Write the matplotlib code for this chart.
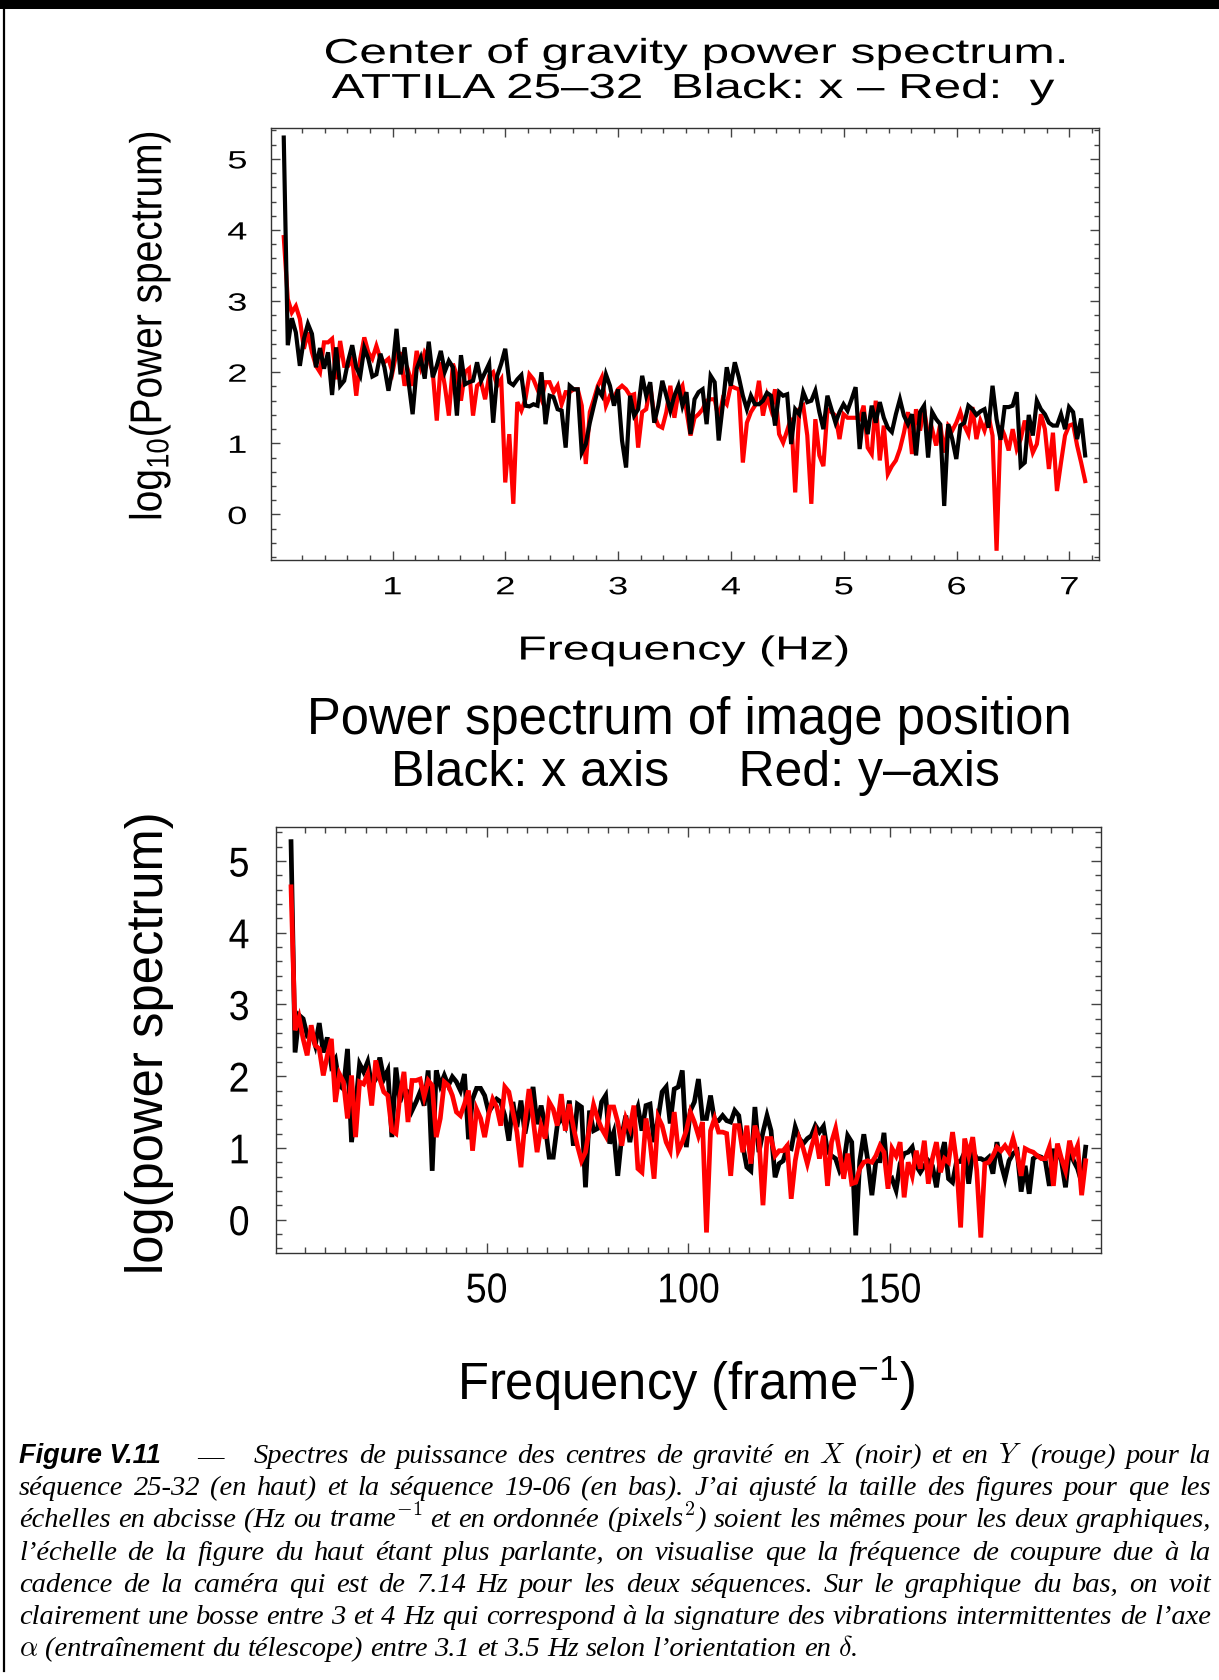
import numpy as np
import matplotlib
matplotlib.use("Agg")
import matplotlib.pyplot as plt
from matplotlib.patheffects import AbstractPathEffect
from matplotlib.transforms import Affine2D
from matplotlib.lines import Line2D
from matplotlib.ticker import FixedLocator, MultipleLocator

W, H = 1219, 1681

# ---- data ----------------------------------------------------------------
df_top = 7.14 / 200          # frequency step of the top spectrum (Hz)

top_black = [
    5.30, 2.38, 2.76, 2.56, 2.09, 2.47, 2.68, 2.54, 2.07, 2.34,
    2.05, 2.28, 1.68, 2.35, 1.81, 1.88, 2.16, 2.38, 2.07, 1.95,
    2.34, 2.19, 1.94, 1.97, 2.26, 2.07, 1.74, 2.05, 2.61, 1.97,
    2.35, 1.86, 1.41, 2.05, 2.20, 1.91, 2.43, 1.93, 2.09, 2.30,
    2.01, 2.16, 2.07, 1.39, 2.24, 1.83, 1.86, 1.88, 2.14, 1.88,
    2.00, 2.12, 1.29, 1.95, 2.12, 2.33, 1.86, 1.82, 1.90, 1.96,
    1.53, 1.52, 1.55, 1.53, 2.00, 1.27, 1.67, 1.65, 1.48, 1.46,
    0.94, 1.81, 1.76, 1.76, 0.87, 0.99, 1.29, 1.53, 1.76, 1.67,
    1.97, 1.81, 1.53, 1.76, 1.04, 0.66, 1.67, 1.39, 1.48, 1.95,
    1.67, 1.86, 1.29, 1.53, 1.88, 1.67, 1.46, 1.67, 1.81, 1.53,
    1.72, 1.13, 1.62, 1.72, 1.76, 1.27, 1.95, 1.86, 1.04, 1.53,
    2.07, 1.81, 2.14, 1.93, 1.67, 1.48, 1.67, 1.55, 1.55, 1.60,
    1.71, 1.67, 1.25, 1.72, 1.67, 1.69, 0.99, 1.48, 1.41, 1.72,
    1.58, 1.60, 1.74, 1.44, 1.20, 1.67, 1.48, 1.29, 1.44, 1.55,
    1.46, 1.62, 1.79, 0.92, 1.44, 1.13, 1.53, 1.29, 1.58, 1.36,
    1.22, 1.16, 1.41, 1.62, 1.39, 1.27, 1.41, 0.83, 1.44, 1.53,
    0.80, 1.44, 1.34, 1.27, 0.12, 1.27, 1.06, 0.78, 1.25, 1.29,
    1.53, 1.48, 1.40, 1.45, 1.48, 1.22, 1.81, 1.34, 1.05, 1.51,
    1.51, 1.53, 1.72, 0.68, 0.73, 1.40, 1.11, 1.60, 1.48, 1.41,
    1.29, 1.25, 1.25, 1.41, 1.20, 1.51, 1.44, 1.06, 1.35, 0.83,
]

top_red = [
    3.90, 3.03, 2.84, 2.93, 2.75, 2.33, 2.56, 2.28, 2.09, 2.00,
    2.42, 2.42, 2.47, 1.90, 2.44, 2.09, 2.09, 2.19, 1.67, 2.19,
    2.49, 2.28, 2.19, 2.37, 2.19, 2.14, 2.19, 2.00, 2.28, 2.26,
    1.81, 2.00, 1.81, 2.30, 2.07, 2.28, 2.19, 2.00, 1.32, 2.14,
    1.81, 1.39, 2.12, 1.95, 1.60, 2.00, 2.05, 1.39, 1.81, 1.86,
    1.62, 1.95, 2.00, 1.81, 1.90, 0.45, 1.13, 0.15, 1.58, 1.46,
    1.62, 1.97, 1.90, 1.76, 1.62, 1.86, 1.86, 1.72, 1.81, 1.55,
    1.72, 1.72, 1.76, 1.76, 1.53, 0.71, 1.44, 1.62, 1.81, 1.93,
    1.53, 1.67, 1.65, 1.76, 1.81, 1.76, 1.67, 1.69, 0.94, 1.44,
    1.48, 1.81, 1.39, 1.25, 1.22, 1.44, 1.81, 1.36, 1.72, 1.81,
    1.46, 1.11, 1.36, 1.41, 1.48, 1.60, 1.62, 1.62, 1.34, 1.62,
    1.55, 1.81, 1.78, 1.76, 0.73, 1.29, 1.44, 1.53, 1.88, 1.39,
    1.67, 1.48, 1.76, 1.13, 1.01, 1.18, 1.36, 0.31, 1.48, 1.53,
    1.11, 0.15, 1.34, 0.83, 0.68, 1.48, 1.44, 1.39, 1.06, 1.41,
    1.36, 1.36, 1.36, 1.34, 1.53, 0.94, 0.85, 1.60, 0.76, 1.25,
    0.57, 0.68, 0.76, 0.92, 1.15, 1.44, 0.85, 1.48, 1.18, 1.48,
    1.11, 1.20, 0.97, 1.27, 0.87, 1.25, 1.18, 1.29, 1.44, 1.25,
    1.13, 1.51, 1.06, 1.32, 1.18, 1.39, 1.11, -0.51, 1.25, 1.11,
    0.90, 1.20, 0.92, 1.06, 1.32, 1.11, 0.87, 0.99, 1.41, 1.20,
    0.64, 1.15, 0.33, 0.73, 1.11, 1.25, 1.27, 0.97, 0.73, 0.47,
]

bot_black = [
    5.27, 2.33, 2.85, 2.80, 2.57, 2.61, 2.43, 2.74, 2.33, 2.54,
    2.15, 2.24, 1.87, 1.82, 2.38, 1.08, 1.59, 2.17, 2.06, 2.20,
    1.87, 1.96, 2.26, 1.96, 2.08, 1.15, 2.12, 1.64, 1.82, 1.78,
    1.52, 1.64, 1.78, 1.59, 2.08, 0.68, 2.08, 1.87, 2.01, 1.87,
    1.99, 1.92, 1.80, 2.03, 1.12, 1.68, 1.83, 1.83, 1.73, 1.50,
    1.59, 1.68, 1.64, 1.45, 1.10, 1.64, 1.29, 1.66, 1.20, 1.50,
    1.85, 1.33, 1.59, 1.31, 0.87, 0.87, 1.31, 1.43, 1.31, 1.66,
    1.03, 1.61, 1.57, 0.45, 1.52, 1.24, 1.27, 1.64, 1.73, 1.06,
    1.22, 0.61, 1.17, 1.45, 1.08, 1.41, 1.57, 1.24, 1.59, 1.61,
    1.08, 1.41, 1.78, 1.85, 1.34, 1.82, 1.85, 2.08, 1.01, 1.52,
    1.64, 1.96, 1.41, 1.41, 1.73, 1.38, 1.38, 1.45, 1.38, 1.36,
    1.52, 1.45, 1.03, 0.73, 0.68, 1.57, 0.94, 1.22, 1.45, 1.24,
    0.59, 0.78, 0.82, 1.01, 0.99, 1.29, 1.13, 1.06, 1.13, 1.17,
    1.31, 1.22, 1.30, 0.95, 0.89, 0.85, 0.68, 0.78, 1.17, 1.08,
    -0.22, 0.82, 1.19, 0.82, 0.34, 0.82, 0.82, 1.21, 0.52, 0.57,
    0.41, 0.78, 0.92, 0.94, 1.01, 0.75, 0.66, 0.75, 0.82, 0.75,
    0.45, 0.85, 1.08, 0.57, 0.52, 0.81, 0.81, 0.94, 0.50, 0.96,
    0.85, 0.85, 0.82, 0.87, 0.64, 1.08, 0.78, 0.57, 0.82, 0.92,
    0.96, 0.39, 0.75, 0.36, 0.85, 0.89, 0.87, 0.82, 0.47, 0.96,
    0.96, 0.82, 0.45, 0.99, 0.82, 0.71, 0.52, 1.01,
]

bot_red = [
    4.64, 2.64, 2.82, 2.52, 2.29, 2.71, 2.43, 2.38, 2.01, 2.29,
    2.52, 1.64, 2.03, 1.92, 1.41, 2.01, 1.15, 1.92, 1.89, 2.03,
    1.59, 2.22, 1.96, 1.78, 1.73, 1.24, 1.20, 1.73, 2.06, 1.36,
    1.94, 1.94, 1.96, 1.71, 1.94, 1.87, 1.15, 1.41, 1.92, 1.87,
    1.73, 1.50, 1.45, 1.61, 1.80, 0.96, 1.54, 1.41, 1.15, 1.47,
    1.68, 1.57, 1.31, 1.85, 1.78, 1.50, 1.22, 0.73, 1.36, 1.82,
    1.41, 0.94, 1.31, 1.13, 1.64, 1.54, 1.31, 1.75, 1.24, 1.61,
    1.29, 1.03, 0.82, 0.94, 1.29, 1.60, 1.41, 1.27, 1.17, 1.57,
    1.57, 1.36, 1.03, 1.41, 1.27, 1.59, 0.71, 0.66, 1.41, 1.08,
    0.57, 1.43, 1.31, 1.08, 0.96, 1.50, 0.96, 1.08, 1.24, 1.50,
    1.36, 1.17, 1.36, -0.18, 1.24, 1.41, 1.22, 1.22, 1.20, 0.61,
    1.31, 1.31, 0.94, 1.31, 0.78, 1.31, 1.13, 0.20, 1.13, 1.13,
    0.89, 0.96, 0.96, 1.03, 0.29, 0.82, 1.13, 0.99, 0.78, 1.01,
    1.20, 0.85, 1.17, 0.47, 1.08, 1.27, 0.94, 0.57, 0.92, 0.50,
    0.52, 0.71, 0.80, 0.82, 0.80, 0.89, 1.03, 0.94, 0.43, 0.99,
    0.89, 1.08, 0.31, 0.80, 0.61, 0.96, 0.71, 1.10, 0.50, 0.85,
    1.08, 0.66, 0.85, 0.80, 1.22, 0.80, -0.11, 1.13, 0.89, 1.15,
    0.68, -0.25, 0.78, 0.80, 0.89, 1.01, 0.96, 1.03, 0.94, 1.13,
    0.92, 0.61, 0.99, 0.96, 0.94, 0.89, 0.85, 0.85, 1.01, 0.47,
    1.06, 0.85, 0.68, 1.10, 0.89, 1.03, 0.34, 0.82,
]

top_xticks = [1, 2, 3, 4, 5, 6, 7]
bot_xticks = [50, 100, 150]
yticks = [0, 1, 2, 3, 4, 5]

caption = [
    "séquence 25-32 (en haut) et la séquence 19-06 (en bas). J’ai ajusté la taille des figures pour que les",
    "échelles en abcisse (Hz ou trame$^{-1}$ et en ordonnée (pixels$^2$) soient les mêmes pour les deux graphiques,",
    "l’échelle de la figure du haut étant plus parlante, on visualise que la fréquence de coupure due à la",
    "cadence de la caméra qui est de 7.14 Hz pour les deux séquences. Sur le graphique du bas, on voit",
    "clairement une bosse entre 3 et 4 Hz qui correspond à la signature des vibrations intermittentes de l’axe",
    r"$\alpha$ (entraînement du télescope) entre 3.1 et 3.5 Hz selon l’orientation en $\delta$.",
]
caption_first = "Spectres de puissance des centres de gravité en $X$ (noir) et en $Y$ (rouge) pour la"


class Stretch(AbstractPathEffect):
    # the top panel was widened when the thesis figure was resized
    def __init__(self, sx):
        super().__init__()
        self.sx = sx

    def draw_path(self, renderer, gc, tpath, affine, rgbFace=None):
        ext = tpath.get_extents(affine)
        cx = 0.5 * (ext.x0 + ext.x1)
        tr = affine + Affine2D().translate(-cx, 0).scale(self.sx, 1).translate(cx, 0)
        renderer.draw_path(gc, tpath, tr, rgbFace)


def fx(x):
    return x / W


def fy(y):
    return 1 - y / H


plt.rcParams['font.family'] = ['Liberation Sans', 'DejaVu Sans']
plt.rcParams['mathtext.fontset'] = 'custom'
plt.rcParams['mathtext.rm'] = 'Liberation Sans'
plt.rcParams['mathtext.it'] = 'Liberation Sans:italic'
plt.rcParams['mathtext.bf'] = 'Liberation Sans:bold'

fig = plt.figure(figsize=(W / 100, H / 100), dpi=100)

spine_col = '#333333'

# ---- top panel ---------------------------------------------------------
x0, x1, y0, y1 = 270.7, 1098.7, 129.3, 561.0
ax1 = fig.add_axes([fx(x0), fy(y1), (x1 - x0) / W, (y1 - y0) / H])
f_top = df_top * np.arange(1, len(top_black) + 1)
ax1.plot(f_top, top_red, color='#ff0000', lw=3.0, solid_joinstyle='miter')
ax1.plot(f_top, top_black, color='black', lw=3.0, solid_joinstyle='miter')
ax1.set_xlim(-0.08, 7.26)
ax1.set_ylim(-0.64, 5.43)
ax1.set_xticks(top_xticks)
ax1.set_yticks(yticks)
ax1.xaxis.set_minor_locator(FixedLocator(np.arange(0.2, 7.21, 0.2)))
ax1.yaxis.set_minor_locator(MultipleLocator(0.2))
ax1.tick_params(which='both', direction='in', top=True, right=True,
                color='#444444', width=1.0)
ax1.tick_params(which='major', length=6.5, labelsize=18)
ax1.tick_params(which='minor', length=3.5)
ax1.tick_params(axis='y', pad=19)
ax1.tick_params(axis='x', pad=11)
for sp in ax1.spines.values():
    sp.set_color(spine_col)
    sp.set_linewidth(1.0)
for t in ax1.xaxis.get_major_ticks() + ax1.yaxis.get_major_ticks():
    t.label1.set_path_effects([Stretch(1.45)])

ax1.set_xlabel("Frequency (Hz)", fontsize=24, va='center',
               path_effects=[Stretch(1.45)])
ax1.xaxis.set_label_coords((684 - x0) / (x1 - x0), (y1 - 652) / (y1 - y0))
ax1.set_ylabel("log$_{10}$(Power spectrum)", fontsize=28, va='center',
               path_effects=[Stretch(1.15)])
ax1.yaxis.set_label_coords((150 - x0) / (x1 - x0), (y1 - 327) / (y1 - y0))

fig.text(fx(696), fy(64), "Center of gravity power spectrum.", ha='center',
         va='baseline', fontsize=25, path_effects=[Stretch(1.43)])
fig.text(fx(693), fy(99), "ATTILA 25–32  Black: x – Red:  y", ha='center',
         va='baseline', fontsize=25, path_effects=[Stretch(1.42)])

# ---- bottom panel ------------------------------------------------------
x0, x1, y0, y1 = 275.7, 1101.0, 828.3, 1254.3
ax2 = fig.add_axes([fx(x0), fy(y1), (x1 - x0) / W, (y1 - y0) / H])
f_bot = np.arange(len(bot_black)) + 1.5
ax2.plot(f_bot, bot_black, color='black', lw=3.4, solid_joinstyle='miter')
ax2.plot(f_bot, bot_red, color='#ff0000', lw=3.4, solid_joinstyle='miter')
ax2.set_xlim(-2.3, 202.3)
ax2.set_ylim(-0.47, 5.47)
ax2.set_xticks(bot_xticks)
ax2.set_yticks(yticks)
ax2.xaxis.set_minor_locator(FixedLocator(np.arange(5, 200, 5)))
ax2.yaxis.set_minor_locator(MultipleLocator(0.2))
ax2.tick_params(which='both', direction='in', top=True, right=True,
                color='#444444', width=1.0)
ax2.tick_params(which='major', length=7.5, labelsize=30)
ax2.tick_params(which='minor', length=4.5)
ax2.tick_params(axis='y', pad=18)
ax2.tick_params(axis='x', pad=13)
for sp in ax2.spines.values():
    sp.set_color(spine_col)
    sp.set_linewidth(1.0)
for t in ax2.xaxis.get_major_ticks() + ax2.yaxis.get_major_ticks():
    t.label1.set_path_effects([Stretch(0.9)])

ax2.set_xlabel("Frequency (frame$^{-1}$)", fontsize=36.5, va='center')
ax2.xaxis.set_label_coords((686 - x0) / (x1 - x0), (y1 - 1383) / (y1 - y0))
ax2.set_ylabel("log(power spectrum)", fontsize=36.5, va='center')
ax2.yaxis.set_label_coords((150 - x0) / (x1 - x0), (y1 - 1043) / (y1 - y0))

fig.text(fx(689), fy(734), "Power spectrum of image position", ha='center',
         va='baseline', fontsize=36.5)
fig.text(fx(695), fy(786), "Black: x axis     Red: y–axis", ha='center',
         va='baseline', fontsize=36)

# ---- frame around the figure -------------------------------------------
fig.add_artist(Line2D([0, 1], [fy(4.5), fy(4.5)], color='black', lw=6.5,
                      transform=fig.transFigure))
fig.add_artist(Line2D([fx(3.5), fx(3.5)], [fy(0), fy(1672)], color='black',
                      lw=1.6, transform=fig.transFigure))

# ---- caption, justified like the LaTeX original ---------------------------
cap_kw = dict(family='Liberation Serif', style='italic', fontsize=20.5,
              va='baseline', math_fontfamily='cm')
renderer = fig.canvas.get_renderer()


def justify(line, y, xa, xb, last=False):
    words = line.split(' ')
    texts = [fig.text(0, fy(y), w, **cap_kw) for w in words]
    widths = [t.get_window_extent(renderer).width for t in texts]
    if last:
        gap = 7.0
    else:
        gap = (xb - xa - sum(widths)) / (len(words) - 1)
    x = xa
    for t, w in zip(texts, widths):
        t.set_x(fx(x))
        x += w + gap


base0 = 1463
step = 32.2
fig.text(fx(19), fy(base0), "Figure V.11", family='Liberation Sans',
         weight='bold', style='italic', fontsize=19.5, va='baseline')
fig.text(fx(210), fy(base0), "—", family='Liberation Serif', fontsize=19,
         ha='center', va='baseline')
justify(caption_first, base0, 254, 1211)
for i, line in enumerate(caption):
    justify(line, base0 + step * (i + 1), 19, 1211, last=(i == len(caption) - 1))

fig.savefig("out.png", dpi=100)
